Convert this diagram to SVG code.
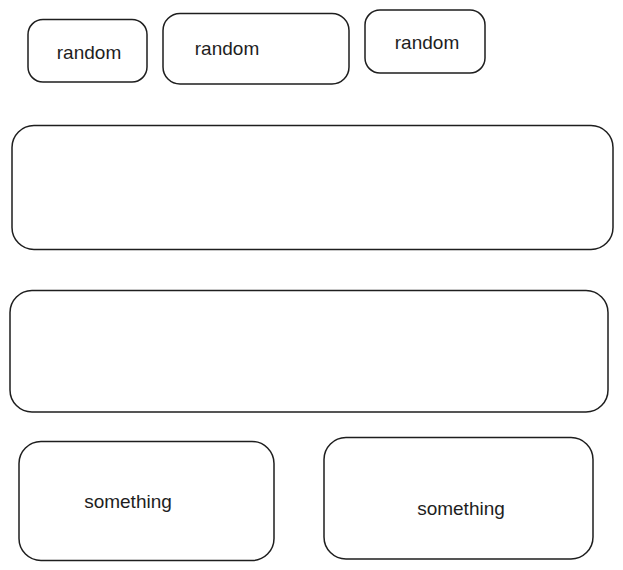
<svg xmlns="http://www.w3.org/2000/svg" width="623" height="570" viewBox="0 0 623 570">
<style>
.box{fill:#ffffff;stroke:#1e1e1e;stroke-width:1.5}
.lbl{font-family:"Liberation Sans",Arial,sans-serif;font-size:19px;fill:#1e1e1e;dominant-baseline:middle}
</style>
<rect width="623" height="570" fill="#ffffff"/>
<g id="node-random-1">
<rect class="box" x="28" y="19.5" width="119" height="62.5" rx="15"/>
<text class="lbl" x="89" y="54" text-anchor="middle">random</text>
</g>
<g id="node-random-2">
<rect class="box" x="163" y="13.5" width="186" height="70.5" rx="17"/>
<text class="lbl" x="227" y="50" text-anchor="middle">random</text>
</g>
<g id="node-random-3">
<rect class="box" x="365" y="10" width="120" height="63" rx="15"/>
<text class="lbl" x="427" y="44" text-anchor="middle">random</text>
</g>
<g id="node-wide-1">
<rect class="box" x="12" y="125.5" width="601" height="124" rx="22"/>
</g>
<g id="node-wide-2">
<rect class="box" x="10" y="290.5" width="598" height="121.5" rx="22"/>
</g>
<g id="node-something-1">
<rect class="box" x="19" y="441.5" width="255" height="119" rx="22"/>
<text class="lbl" x="128" y="503" text-anchor="middle">something</text>
</g>
<g id="node-something-2">
<rect class="box" x="324" y="437.5" width="269" height="121.5" rx="22"/>
<text class="lbl" x="461" y="510" text-anchor="middle">something</text>
</g>
<g id="connectors"></g>
</svg>
